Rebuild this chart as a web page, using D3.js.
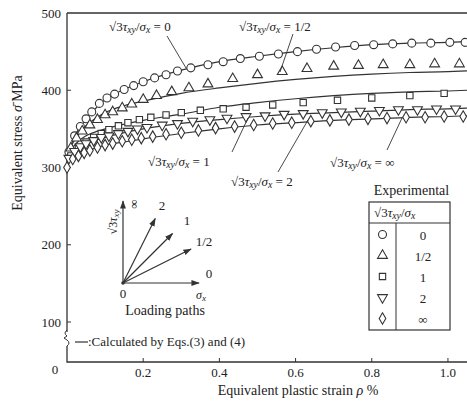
<!DOCTYPE html>
<html lang="en">
<head>
	<meta charset="UTF-8">
	<title>Equivalent stress vs plastic strain</title>
	<script src="https://cdn.jsdelivr.net/npm/d3@7"></script>
	<style>
		body{ margin: 0px; background: #fff; }
		text{ font-family: "Liberation Serif", "DejaVu Serif", serif; fill: #222; }
		.calc{ fill: none; stroke: #333; stroke-width: 1.2; }
		.mark{ fill: #fff; stroke: #333; stroke-width: 1.1; }
	</style>
</head>
<body>
	<svg></svg>
	<script>
		// calculated curves, shared strain grid
		var calcX = [0, 0.01, 0.02, 0.03, 0.05, 0.08, 0.1, 0.15, 0.2, 0.3, 0.4, 0.5, 0.6, 0.7, 0.8, 0.9, 1.0, 1.05];
		var calc0 = [310, 328, 340, 349, 362, 379, 388, 401, 411, 426, 437, 444, 450, 455, 459, 461, 462, 463];
		var calcHalf = [310, 326, 336, 343, 354, 365, 371, 380, 386, 396, 403, 409, 414, 418, 421, 423, 424, 425];
		var calc1 = [310, 322, 329, 334, 341, 347, 350, 356, 361, 369, 378, 384, 389, 393, 396, 398, 399, 400];
		var calc2 = [306, 316, 321, 325, 330, 336, 339, 345, 350, 357, 362, 366, 369, 371, 373, 375, 376, 377];
		var calcInf = [302, 310, 314, 317, 321, 326, 329, 333, 337, 344, 350, 355, 358, 361, 363, 365, 366, 367];

		// experimental points
		var circX = [0.005, 0.02, 0.035, 0.05, 0.065, 0.085, 0.105, 0.125, 0.15, 0.175, 0.2, 0.23, 0.26, 0.29, 0.325, 0.37, 0.41, 0.455, 0.505, 0.555, 0.605, 0.655, 0.705, 0.755, 0.805, 0.855, 0.905, 0.955, 1.005, 1.045];
		var circY = [320, 341, 353, 363, 372, 383, 390, 395, 401, 406, 411, 416, 420, 425, 429, 433, 437, 441, 444, 447, 450, 453, 456, 458, 459, 460, 461, 461, 462, 462];
		var triX = [0.01, 0.025, 0.04, 0.06, 0.08, 0.1, 0.12, 0.145, 0.17, 0.2, 0.235, 0.275, 0.32, 0.37, 0.435, 0.5, 0.565, 0.63, 0.7, 0.765, 0.83, 0.9, 0.965, 1.03];
		var triY = [325, 338, 347, 355, 362, 368, 372, 377, 382, 388, 393, 398, 403, 408, 415, 420, 424, 428, 431, 432, 433, 433, 434, 434];
		var sqX = [0.01, 0.03, 0.05, 0.07, 0.09, 0.11, 0.135, 0.16, 0.19, 0.22, 0.26, 0.3, 0.35, 0.41, 0.47, 0.54, 0.62, 0.71, 0.8, 0.9, 0.99];
		var sqY = [315, 325, 333, 339, 344, 349, 354, 358, 362, 365, 368, 371, 374, 376, 378, 381, 384, 387, 390, 393, 396];
		var invX = [0.005, 0.02, 0.035, 0.05, 0.07, 0.09, 0.11, 0.135, 0.16, 0.185, 0.21, 0.25, 0.29, 0.33, 0.375, 0.42, 0.47, 0.52, 0.57, 0.62, 0.67, 0.72, 0.77, 0.82, 0.87, 0.92, 0.97, 1.02];
		var invY = [312, 321, 327, 331, 335, 339, 341, 344, 347, 350, 352, 355, 357, 360, 362, 364, 366, 367, 369, 370, 371, 372, 373, 374, 375, 375, 376, 376];
		var diaX = [0.0, 0.015, 0.03, 0.045, 0.06, 0.08, 0.1, 0.12, 0.145, 0.17, 0.195, 0.225, 0.26, 0.3, 0.345, 0.39, 0.44, 0.49, 0.54, 0.59, 0.64, 0.69, 0.74, 0.79, 0.84, 0.89, 0.94, 0.99, 1.04];
		var diaY = [300, 311, 315, 319, 322, 326, 329, 331, 334, 336, 338, 340, 343, 345, 348, 351, 353, 355, 357, 358, 360, 361, 362, 363, 364, 365, 365, 366, 366];

		var xTicks = [0.2, 0.4, 0.6, 0.8, 1.0];
		var yTicks = [100, 200, 300, 400, 500];
		var ratios = ["0", "1/2", "1", "2", "\u221e"];

		var w = 467, h = 403,
			svg = d3.select("svg").attr("width", w).attr("height", h);

		var x = d3.scaleLinear().domain([0, 1.05]).range([67, 467]),
			y = d3.scaleLinear().domain([100, 500]).range([322, 13]),
			axisY = 362;

		// frame
		svg.append("path").attr("d", "M67,13H467M67,13V" + axisY + "H467")
			.attr("fill", "none").attr("stroke", "#333").attr("stroke-width", 1.3);

		// ticks (inward)
		svg.selectAll(".xt").data(xTicks).enter().append("line")
			.attr("x1", d => x(d)).attr("x2", d => x(d))
			.attr("y1", axisY).attr("y2", axisY - 4)
			.attr("stroke", "#333");
		svg.selectAll(".xl").data(xTicks).enter().append("text")
			.attr("x", d => x(d)).attr("y", 377).attr("text-anchor", "middle")
			.attr("font-size", 13).text(d => d3.format(".1f")(d));
		svg.selectAll(".yt").data(yTicks.slice(0, 4)).enter().append("line")
			.attr("x1", 67).attr("x2", 71)
			.attr("y1", d => y(d)).attr("y2", d => y(d))
			.attr("stroke", "#333");
		svg.selectAll(".yl").data(yTicks).enter().append("text")
			.attr("x", 61).attr("y", d => y(d) + 4.5).attr("text-anchor", "end")
			.attr("font-size", 13).text(d => d);
		svg.append("text").attr("x", 55).attr("y", 374).attr("text-anchor", "middle")
			.attr("font-size", 13).text("0");

		// axis break
		svg.append("rect").attr("x", 64).attr("y", 332).attr("width", 6).attr("height", 14).attr("fill", "#fff");
		svg.append("path").attr("d", "M67,330 q-4,3 0,6 l-3,2 l3,2 q4,3 0,6")
			.attr("fill", "none").attr("stroke", "#333");

		// axis titles
		svg.append("text").attr("transform", "translate(22,143) rotate(-90)")
			.attr("text-anchor", "middle").attr("font-size", 14)
			.html('Equivalent stress <tspan font-style="italic">\u03c3\u0304</tspan>  MPa');
		svg.append("text").attr("x", 298).attr("y", 395).attr("text-anchor", "middle")
			.attr("font-size", 14)
			.html('Equivalent plastic strain <tspan font-style="italic">\u03c1</tspan>  %');

		// calculated curves
		var line = d3.line().x((d, i) => x(calcX[i])).y(d => y(d)).curve(d3.curveMonotoneX);
		[calc0, calcHalf, calc1, calc2, calcInf].forEach(function(s) {
			svg.append("path").attr("class", "calc").attr("d", line(s));
		});

		// experimental markers
		var tri = d3.symbol().type(d3.symbolTriangle).size(42),
			shapes = [
				{ xs: circX, ys: circY, d: d3.symbol().type(d3.symbolCircle).size(50)(), rot: 0 },
				{ xs: triX, ys: triY, d: tri(), rot: 0 },
				{ xs: sqX, ys: sqY, d: d3.symbol().type(d3.symbolSquare).size(40)(), rot: 0 },
				{ xs: invX, ys: invY, d: tri(), rot: 180 },
				{ xs: diaX, ys: diaY, d: d3.symbol().type(d3.symbolDiamond).size(38)(), rot: 0 }
			];
		shapes.forEach(function(s) {
			svg.append("g").selectAll("path").data(s.ys).enter().append("path")
				.attr("class", "mark").attr("d", s.d)
				.attr("transform", (d, i) => "translate(" + x(s.xs[i]) + "," + y(d) + ") rotate(" + s.rot + ")");
		});

		// curve labels
		function ratioLabel(g, px, py, val, size) {
			size = size || 13;
			var t = g.append("text").attr("x", px).attr("y", py).attr("font-size", size);
			t.append("tspan").text("\u221a3");
			t.append("tspan").attr("font-style", "italic").text("\u03c4");
			t.append("tspan").attr("font-style", "italic").attr("font-size", size * 0.75).attr("dy", 2).text("xy");
			t.append("tspan").attr("dy", -2).text("/");
			t.append("tspan").attr("font-style", "italic").text("\u03c3");
			t.append("tspan").attr("font-style", "italic").attr("font-size", size * 0.75).attr("dy", 2).text("x");
			if (val !== null) t.append("tspan").attr("dy", -2).text(" = " + val);
			return t;
		}
		ratioLabel(svg, 109, 31, "0");
		ratioLabel(svg, 239, 31, "1/2");
		ratioLabel(svg, 148, 166, "1");
		ratioLabel(svg, 231, 186, "2");
		ratioLabel(svg, 330, 167, "\u221e");

		var leaders = [[167, 36, 186, 68], [293, 34, 280, 72], [232, 152, 248, 118], [278, 172, 308, 120], [387, 150, 402, 118]];
		svg.selectAll(".ld").data(leaders).enter().append("line")
			.attr("x1", d => d[0]).attr("y1", d => d[1]).attr("x2", d => d[2]).attr("y2", d => d[3])
			.attr("stroke", "#333").attr("stroke-width", 0.9);

		// loading paths inset
		var ox = 123, oy = 283;
		svg.append("defs").append("marker").attr("id", "arr")
			.attr("viewBox", "0 0 10 10").attr("refX", 9).attr("refY", 5)
			.attr("markerWidth", 7).attr("markerHeight", 7).attr("orient", "auto")
			.append("path").attr("d", "M0,1.5L10,5L0,8.5Z").attr("fill", "#333");
		var angles = [0, Math.atan(0.5), Math.PI / 4, Math.atan(2), Math.PI / 2],
			lens = [76, 76, 70, 72, 82];
		svg.selectAll(".lp").data(angles).enter().append("line")
			.attr("x1", ox).attr("y1", oy)
			.attr("x2", (d, i) => ox + lens[i] * Math.cos(d))
			.attr("y2", (d, i) => oy - lens[i] * Math.sin(d))
			.attr("stroke", "#333").attr("stroke-width", 1.2)
			.attr("marker-end", "url(#arr)");
		svg.append("circle").attr("cx", ox).attr("cy", oy).attr("r", 1.8).attr("fill", "#333");
		var pathLabels = [[209, 278], [204, 246], [187, 225], [162, 210], [134, 204]];
		ratios.forEach(function(r, i) {
			var t = svg.append("text").attr("font-size", 13).attr("text-anchor", "middle").text(r);
			if (i === 4) t.attr("transform", "translate(" + pathLabels[i][0] + "," + pathLabels[i][1] + ") rotate(-90)").attr("dy", 4);
			else t.attr("x", pathLabels[i][0]).attr("y", pathLabels[i][1]);
		});
		svg.append("text").attr("x", ox).attr("y", 298).attr("text-anchor", "middle").attr("font-size", 13).text("0");
		svg.append("text").attr("x", 196).attr("y", 299).attr("font-size", 12).attr("font-style", "italic")
			.html('\u03c3<tspan font-size="9" dy="2">x</tspan>');
		var vt = svg.append("text").attr("transform", "translate(117,222) rotate(-90)")
			.attr("text-anchor", "middle").attr("font-size", 12);
		vt.append("tspan").text("\u221a3");
		vt.append("tspan").attr("font-style", "italic").text("\u03c4");
		vt.append("tspan").attr("font-style", "italic").attr("font-size", 9).attr("dy", 2).text("xy");
		svg.append("text").attr("x", 165).attr("y", 315).attr("text-anchor", "middle").attr("font-size", 14).text("Loading paths");

		// calculated legend
		svg.append("line").attr("x1", 75).attr("x2", 88).attr("y1", 342).attr("y2", 342).attr("stroke", "#333").attr("stroke-width", 1.2);
		svg.append("text").attr("x", 88).attr("y", 346).attr("font-size", 13).text(":Calculated by Eqs.(3) and (4)");

		// experimental table
		var tx = 369, tw = 81, ty = 202, hh = 21, rh = 21, cx = 396;
		svg.append("text").attr("x", tx + tw / 2 + 2).attr("y", 195).attr("text-anchor", "middle").attr("font-size", 14).text("Experimental");
		svg.append("rect").attr("x", tx).attr("y", ty).attr("width", tw).attr("height", hh + rh * 5 + 2)
			.attr("fill", "#fff").attr("stroke", "#333").attr("stroke-width", 1.2);
		svg.append("line").attr("x1", tx).attr("x2", tx + tw).attr("y1", ty + hh).attr("y2", ty + hh).attr("stroke", "#333");
		svg.append("line").attr("x1", cx).attr("x2", cx).attr("y1", ty + hh).attr("y2", ty + hh + rh * 5 + 2).attr("stroke", "#333");
		ratioLabel(svg, tx + 5, ty + 15, null, 13);
		shapes.forEach(function(s, i) {
			var ry = ty + hh + rh * i + rh / 2 + 1;
			svg.append("path").attr("class", "mark").attr("d", s.d)
				.attr("transform", "translate(" + (tx + 13.5) + "," + ry + ") rotate(" + s.rot + ")");
			svg.append("text").attr("x", (cx + tx + tw) / 2).attr("y", ry + 5).attr("text-anchor", "middle")
				.attr("font-size", 13).text(ratios[i]);
		});
	</script>
</body>
</html>
